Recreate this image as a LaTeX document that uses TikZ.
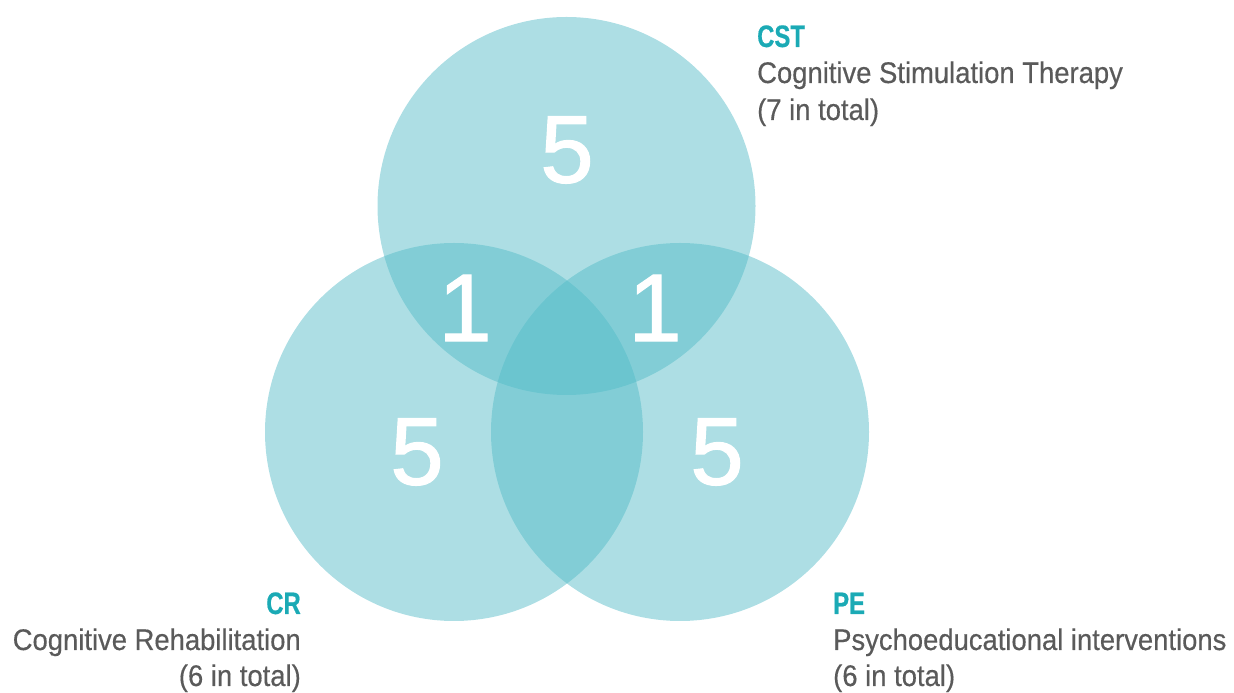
\documentclass[tikz,border=0pt]{standalone}
\usepackage{fontspec}
\setmainfont{Liberation Sans}
\newfontfamily\labfont[FakeStretch=0.92,FakeBold=0.4]{Liberation Sans}
\newfontfamily\headfont[FakeStretch=0.77,FakeBold=0.6]{Liberation Sans Bold}
\newfontfamily\numfont[FakeBold=1.2]{Liberation Sans}
\definecolor{vennc}{RGB}{83,187,199}
\definecolor{headc}{RGB}{27,170,181}
\definecolor{txtc}{RGB}{90,90,90}
\tikzset{
  venn/.style={circle, minimum size=378pt, inner sep=0pt, fill=vennc, fill opacity=0.48, draw=none},
  num/.style={text=white, inner sep=0pt, font=\numfont\fontsize{96}{96}\selectfont},
  head/.style={text=headc, inner sep=0pt, font=\headfont\fontsize{31}{31}\selectfont},
  lab/.style={text=txtc, inner sep=0pt, font=\labfont\fontsize{29.8}{29.8}\selectfont}
}
\begin{document}
\begin{tikzpicture}[x=1pt,y=1pt]
\useasboundingbox (0,0) rectangle (1234,693);
\node[venn] (cst) at (566.5,487) {};
\node[venn] (cr) at (454,261) {};
\node[venn] (pe) at (680,261) {};
\node[num] (ncst) at (567,543) {5};
\node[num] (ncstcr) at (465,385) {1};
\node[num] (ncstpe) at (655,385) {1};
\node[num] (ncr) at (417,241) {5};
\node[num] (npe) at (717,241) {5};
\node[head, anchor=base west] (cst1) at (757,646) {CST};
\node[lab, anchor=base west] (cst2) at (757,610) {Cognitive Stimulation Therapy};
\node[lab, anchor=base west] (cst3) at (757,573) {(7 in total)};
\node[head, anchor=base east] (cr1) at (301,79) {CR};
\node[lab, anchor=base east] (cr2) at (301,43) {Cognitive Rehabilitation};
\node[lab, anchor=base east] (cr3) at (301,7) {(6 in total)};
\node[head, anchor=base west] (pe1) at (833,79) {PE};
\node[lab, anchor=base west] (pe2) at (833,43) {Psychoeducational interventions};
\node[lab, anchor=base west] (pe3) at (833,7) {(6 in total)};
\end{tikzpicture}
\end{document}
